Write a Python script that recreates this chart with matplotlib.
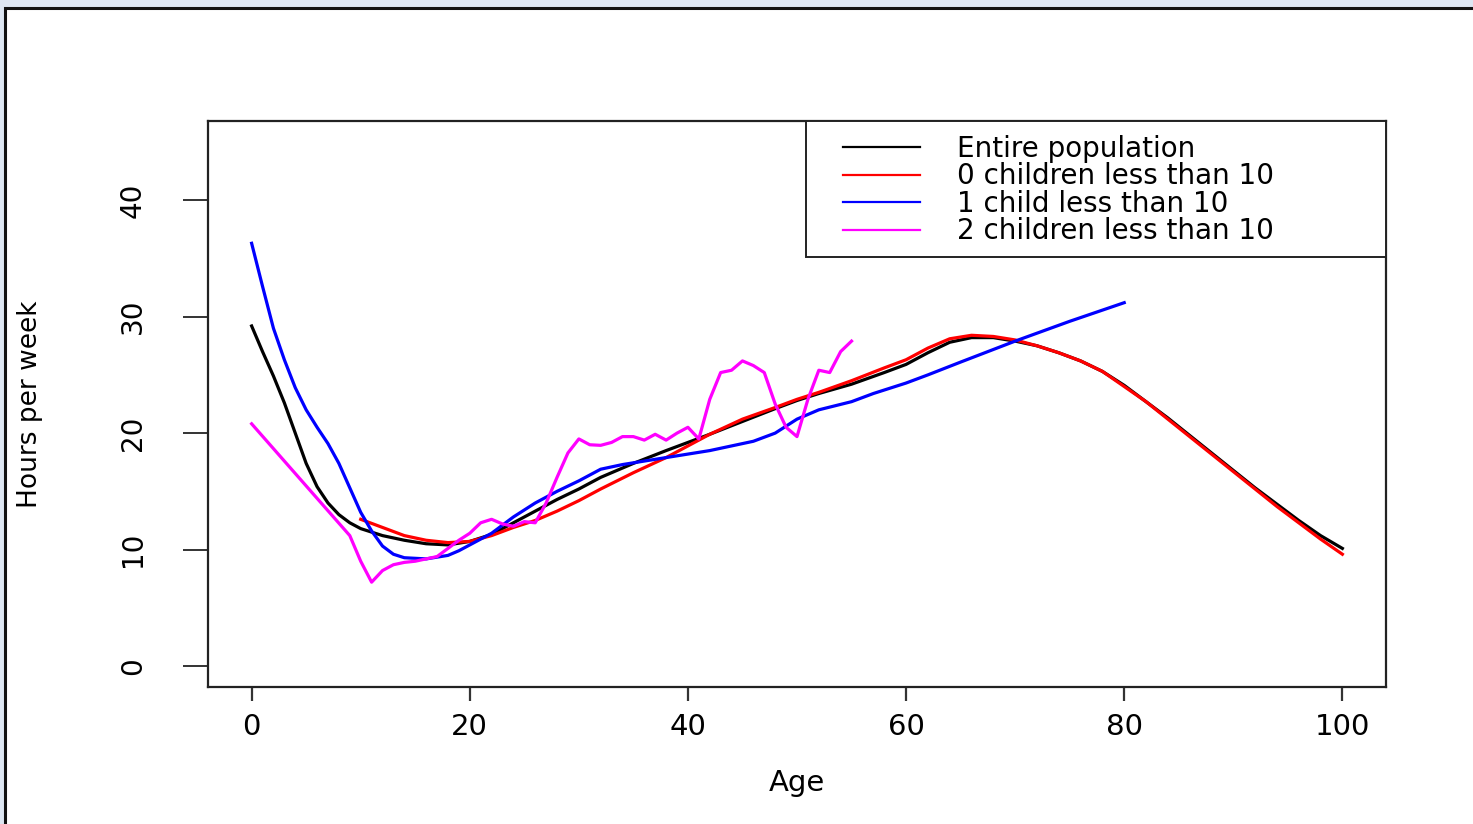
import numpy as np
import matplotlib
matplotlib.use("Agg")
import matplotlib.pyplot as plt
from matplotlib.patches import Rectangle

# Hours per week by age
age_all = [0, 1, 2, 3, 4, 5, 6, 7, 8, 9, 10, 12, 14, 16, 18, 20, 22, 24, 26, 28, 30,
           32, 35, 38, 40, 42, 45, 48, 50, 52, 55, 58, 60, 62, 64, 66, 68, 70, 72,
           74, 76, 78, 80, 82, 84, 86, 88, 90, 92, 94, 96, 98, 100]
hours_all = [29.2, 27.0, 24.9, 22.6, 20.0, 17.4, 15.4, 14.0, 13.0, 12.3, 11.8, 11.2,
             10.8, 10.5, 10.4, 10.7, 11.3, 12.3, 13.3, 14.3, 15.2, 16.2, 17.4, 18.5,
             19.2, 19.9, 21.0, 22.1, 22.8, 23.4, 24.2, 25.2, 25.9, 26.9, 27.8, 28.2,
             28.2, 27.9, 27.5, 26.9, 26.2, 25.3, 24.1, 22.7, 21.3, 19.8, 18.3, 16.8,
             15.3, 13.9, 12.5, 11.2, 10.1]

age_0 = [10, 12, 14, 16, 18, 20, 22, 24, 26, 28, 30, 32, 35, 38, 40, 42, 45, 48, 50,
         52, 55, 58, 60, 62, 64, 66, 68, 70, 72, 74, 76, 78, 80, 82, 84, 86, 88, 90,
         92, 94, 96, 98, 100]
hours_0 = [12.6, 11.9, 11.2, 10.8, 10.6, 10.7, 11.2, 11.9, 12.5, 13.3, 14.2, 15.2,
           16.6, 17.9, 18.9, 19.9, 21.2, 22.2, 22.9, 23.5, 24.5, 25.6, 26.3, 27.3,
           28.1, 28.4, 28.3, 28.0, 27.5, 26.9, 26.2, 25.3, 24.0, 22.7, 21.2, 19.7,
           18.2, 16.7, 15.2, 13.7, 12.3, 10.9, 9.6]

age_1 = [0, 1, 2, 3, 4, 5, 6, 7, 8, 9, 10, 11, 12, 13, 14, 16, 18, 19, 20, 22, 24,
         26, 28, 30, 32, 34, 36, 38, 40, 42, 44, 46, 48, 50, 52, 55, 57, 60, 62, 65,
         70, 75, 80]
hours_1 = [36.3, 32.6, 29.0, 26.3, 23.9, 22.0, 20.5, 19.1, 17.4, 15.3, 13.2, 11.6,
           10.3, 9.6, 9.3, 9.2, 9.5, 9.9, 10.4, 11.4, 12.8, 14.0, 15.0, 15.9, 16.9,
           17.3, 17.6, 17.9, 18.2, 18.5, 18.9, 19.3, 20.0, 21.2, 22.0, 22.7, 23.4,
           24.3, 25.0, 26.1, 27.9, 29.6, 31.2]

age_2 = [0, 9, 10, 11, 12, 13, 14, 15, 16, 17, 18, 19, 20, 21, 22, 23, 24, 25, 26,
         27, 28, 29, 30, 31, 32, 33, 34, 35, 36, 37, 38, 39, 40, 41, 42, 43, 44, 45,
         46, 47, 48, 49, 50, 51, 52, 53, 54, 55]
hours_2 = [20.8, 11.2, 9.0, 7.2, 8.2, 8.7, 8.9, 9.0, 9.2, 9.4, 10.1, 10.8, 11.4,
           12.3, 12.6, 12.2, 12.0, 12.4, 12.3, 14.0, 16.2, 18.3, 19.5, 19.0, 18.95,
           19.2, 19.7, 19.7, 19.4, 19.9, 19.4, 20.0, 20.5, 19.5, 22.9, 25.2, 25.4,
           26.2, 25.8, 25.2, 22.5, 20.5, 19.7, 22.9, 25.4, 25.2, 27.0, 27.9]

labels = ["Entire population", "0 children less than 10",
          "1 child less than 10", "2 children less than 10"]
colors = ["black", "#ff0000", "#0000ff", "#ff00ff"]

fig = plt.figure(figsize=(14.73, 8.24), dpi=100)
fig.patch.set_facecolor("#dde6f2")
# white panel with dark frame (top and left edges visible)
fig.patches.append(Rectangle((5 / 1473, -0.05), 1.1, 1.05 - 8 / 824,
                             transform=fig.transFigure, facecolor="white",
                             edgecolor="#111111", linewidth=2.2, zorder=-10))

ax = fig.add_axes([208 / 1473, 1 - 687 / 824, 1178 / 1473, 566 / 824])
ax.set_facecolor("white")

series = [(age_all, hours_all), (age_0, hours_0), (age_1, hours_1), (age_2, hours_2)]
for (x, y), c, lab in zip(series, colors, labels):
    ax.plot(x, y, color=c, lw=2.3, label=lab)

ax.set_xlim(-4, 104)
ax.set_ylim(-1.8, 46.8)
ax.set_xticks([0, 20, 40, 60, 80, 100])
ax.set_yticks([0, 10, 20, 30, 40])

for s in ax.spines.values():
    s.set_linewidth(1.6)
    s.set_color("#222222")

ax.tick_params(axis="x", length=10, width=1.6, pad=9, labelsize=21, color="#333333")
ax.tick_params(axis="y", length=18, width=1.4, pad=26, labelsize=20, color="#333333")
for lbl in ax.get_yticklabels():
    lbl.set_rotation(90)
    lbl.set_va("center")

ax.set_xlabel("Age", fontsize=21)
ax.xaxis.set_label_coords(0.5, -0.145)
ax.set_ylabel("Hours per week", fontsize=19)
ax.yaxis.set_label_coords(-0.14, 0.5)

# legend box drawn in axes coordinates, entries placed inside it
ax.add_patch(Rectangle((598 / 1178, 430 / 566), 580 / 1178, 136 / 566,
                       transform=ax.transAxes, facecolor="white",
                       edgecolor="#222222", linewidth=1.4, zorder=4))
leg = ax.legend(loc="upper left", bbox_to_anchor=(635 / 1178, 552 / 566),
                borderaxespad=0, borderpad=0, fontsize=20, handlelength=2.77,
                handletextpad=1.33, labelspacing=-0.02, frameon=False)
leg.set_zorder(5)
for h in leg.get_lines():
    h.set_linewidth(1.6)

fig.savefig("out.png", dpi=100, facecolor=fig.get_facecolor())
